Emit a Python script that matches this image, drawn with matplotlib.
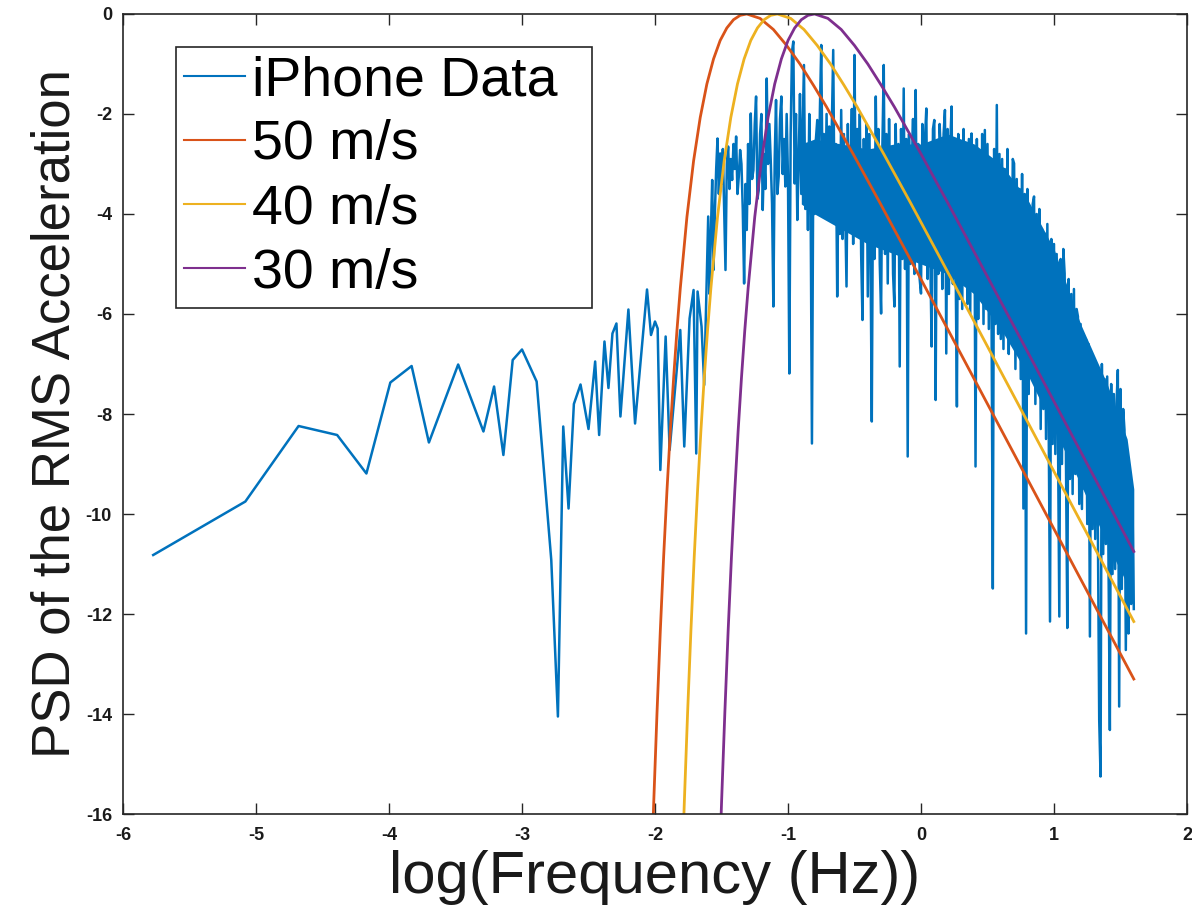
#! /usr/bin/python3

# PSD of iPhone acceleration data vs. model wave spectra for three wind speeds

import numpy as np
import matplotlib.pyplot as plt

plt.rcParams['font.family'] = ['Liberation Sans', 'DejaVu Sans']
plt.rcParams['axes.unicode_minus'] = False

## iPhone data, low-frequency part
low_x = [-5.773, -5.08, -4.68, -4.39, -4.17, -3.99, -3.83, -3.70, -3.48, -3.29,
         -3.21, -3.14, -3.07, -3.00, -2.89, -2.78, -2.73, -2.69, -2.65, -2.61,
         -2.56, -2.50, -2.45, -2.42, -2.38, -2.35, -2.32, -2.29, -2.26, -2.20,
         -2.15, -2.06, -2.03, -2.00, -1.98, -1.96, -1.92, -1.89, -1.81, -1.78,
         -1.74, -1.71, -1.69, -1.68, -1.65, -1.63]
low_y = [-10.82, -9.75, -8.24, -8.42, -9.19, -7.37, -7.04, -8.57, -7.01, -8.35,
         -7.45, -8.82, -6.92, -6.71, -7.35, -10.92, -14.05, -8.25, -9.89, -7.80,
         -7.41, -8.30, -6.95, -8.42, -6.55, -7.48, -6.39, -6.19, -8.05, -5.91,
         -8.19, -5.51, -6.42, -6.15, -6.29, -9.12, -6.45, -8.72, -6.32, -8.65,
         -6.09, -5.52, -8.79, -5.55, -6.25, -7.42]

## iPhone data, dense part: one value every 0.01 from -1.60 to 1.60
dense_start, dense_step = -1.60, 0.01
dense_y = [
    -4.05, -5.6, -4.4, -3.32, -5.12, -4.0, -3.1, -2.49, -3.6, -2.79,       # -1.60
    -3.4, -2.7, -3.9, -5.12, -3.0, -2.65, -3.5, -2.9, -3.32, -2.6,         # -1.50
    -3.1, -2.45, -3.6, -3.25, -2.72, -3.0, -3.92, -5.39, -3.4, -4.32,      # -1.40
    -2.6, -3.8, -1.99, -3.3, -3.12, -2.2, -1.65, -3.7, -3.52, -2.4,        # -1.30
    -2.0, -3.92, -2.8, -3.5, -1.29, -3.0, -2.2, -2.92, -3.8, -5.85,        # -1.20
    -2.9, -1.72, -3.6, -3.25, -2.1, -1.65, -3.2, -2.5, -3.45, -2.0,        # -1.10
    -3.3, -7.19, -2.4, -0.75, -0.55, -3.39, -2.0, -4.12, -3.0, -1.6,       # -1.00
    -3.6, -2.3, -1.02, -3.9, -2.6, -4.32, -2.0, -3.7, -8.59, -3.1,         # -0.90
    -4.0, -2.5, -2.12, -3.8, -1.9, -0.62, -3.5, -2.4, -3.92, -2.0,         # -0.80
    -4.1, -2.25, -3.6, -2.1, -0.72, -4.0, -2.6, -5.65, -3.0, -4.4,         # -0.70
    -1.92, -4.5, -2.4, -3.9, -5.45, -2.2, -4.2, -3.19, -1.9, -4.6,         # -0.60
    -0.82, -4.0, -2.3, -4.19, -2.0, -4.8, -6.12, -2.5, -4.4, -2.2,         # -0.50
    -5.65, -2.4, -4.6, -8.15, -2.8, -4.9, -1.65, -3.9, -2.3, -5.0,         # -0.40
    -5.99, -2.6, -1.02, -4.8, -2.4, -5.39, -2.1, -4.6, -2.9, -5.2,         # -0.30
    -5.85, -2.2, -4.5, -2.6, -7.05, -2.3, -4.9, -1.49, -5.1, -2.5,         # -0.20
    -8.85, -2.4, -5.0, -3.19, -2.1, -5.2, -1.52, -4.7, -2.6, -5.3,         # -0.10
    -5.59, -2.2, -4.8, -2.5, -1.89, -5.3, -2.7, -4.9, -6.65, -2.3,         # 0.00
    -2.12, -7.72, -2.9, -5.2, -2.2, -2.85, -5.5, -2.4, -1.92, -6.79,       # 0.10
    -2.3, -5.6, -2.6, -1.85, -5.4, -2.5, -4.9, -7.85, -2.4, -5.7,          # 0.20
    -2.6, -5.9, -2.3, -5.2, -2.9, -5.8, -2.5, -6.0, -2.39, -5.5,           # 0.30
    -2.7, -9.05, -2.5, -6.1, -3.0, -5.7, -2.4, -6.2, -2.32, -5.9,          # 0.40
    -2.6, -6.3, -2.9, -5.8, -11.49, -2.7, -6.2, -1.82, -6.4, -2.8,         # 0.50
    -6.5, -2.9, -6.7, -3.1, -6.0, -2.7, -6.8, -3.3, -6.4, -2.9,            # 0.60
    -2.99, -7.1, -3.3, -6.8, -3.5, -7.3, -3.2, -9.89, -3.6, -12.39,        # 0.70
    -3.5, -7.6, -3.9, -7.2, -3.8, -3.65, -7.8, -4.0, -7.4, -3.9,           # 0.80
    -8.3, -4.3, -7.9, -4.39, -8.5, -4.2, -8.1, -12.15, -4.5, -8.6,         # 0.90
    -4.6, -8.8, -4.8, -8.4, -12.05, -4.9, -9.0, -4.7, -5.19, -8.9,         # 1.00
    -12.28, -5.3, -9.3, -5.6, -9.6, -5.5, -9.2, -5.9, -6.05, -9.8,         # 1.10
    -6.2, -9.9, -6.4, -9.5, -6.5, -10.2, -6.6, -12.45, -6.8, -10.3,        # 1.20
    -6.99, -10.5, -7.1, -10.3, -14.12, -15.25, -7.0, -10.8, -7.3, -10.6,   # 1.30
    -7.25, -11.0, -14.32, -7.4, -11.2, -7.6, -11.1, -7.8, -7.12, -13.85,   # 1.40
    -7.5, -11.5, -7.9, -8.32, -12.72, -8.8, -12.39, -9.52, -11.8, -9.8,    # 1.50
    -11.9,                                                                 # 1.60
]

## solid core of the noisy band (where the trace fills in completely)
core_x = [-0.90, -0.80, -0.60, -0.40, -0.20, 0.00, 0.20, 0.40, 0.60, 0.80,
          1.00, 1.20, 1.40, 1.55, 1.60]
core_hi = [-2.6, -2.5, -2.6, -2.7, -2.6, -2.6, -2.4, -2.6, -3.0, -3.7,
           -4.7, -6.2, -7.4, -8.5, -9.5]
core_lo = [-3.8, -4.0, -4.3, -4.6, -4.8, -5.0, -5.2, -5.6, -6.3, -7.2,
           -8.3, -9.4, -10.6, -11.4, -11.8]

## model spectra (50, 40, 30 m/s)
red_x = [-2.03, -2.01, -1.985, -1.96, -1.935, -1.91, -1.885, -1.86, -1.835, -1.81,
         -1.76, -1.71, -1.66, -1.61, -1.56, -1.51, -1.46, -1.41, -1.36, -1.31,
         -1.21, -1.11, -1.01, -0.91, -0.81, -0.71, -0.51, -0.31, -0.11, 0.19,
         0.69, 1.19, 1.60]
red_y = [-17.41, -15.80, -13.98, -12.33, -10.85, -9.53, -8.34, -7.28, -6.33, -5.49,
         -4.06, -2.94, -2.07, -1.40, -0.90, -0.53, -0.28, -0.115, -0.027, 0.0,
         -0.088, -0.31, -0.63, -1.00, -1.42, -1.86, -2.80, -3.77, -4.76, -6.25,
         -8.75, -11.25, -13.30]

yel_x = [-1.80, -1.78, -1.755, -1.73, -1.705, -1.68, -1.655, -1.63, -1.605, -1.58,
         -1.53, -1.48, -1.43, -1.38, -1.33, -1.28, -1.23, -1.18, -1.13, -1.08,
         -0.98, -0.88, -0.78, -0.68, -0.58, -0.48, -0.28, -0.08, 0.12, 0.42,
         0.92, 1.42, 1.60]
yel_y = [-17.41, -15.80, -13.98, -12.33, -10.85, -9.53, -8.34, -7.28, -6.33, -5.49,
         -4.06, -2.94, -2.07, -1.40, -0.90, -0.53, -0.28, -0.115, -0.027, 0.0,
         -0.088, -0.31, -0.63, -1.00, -1.42, -1.86, -2.80, -3.77, -4.76, -6.25,
         -8.75, -11.25, -12.15]

pur_x = [-1.52, -1.50, -1.475, -1.45, -1.425, -1.40, -1.375, -1.35, -1.325, -1.30,
         -1.25, -1.20, -1.15, -1.10, -1.05, -1.00, -0.95, -0.90, -0.85, -0.80,
         -0.70, -0.60, -0.50, -0.40, -0.30, -0.20, 0.00, 0.20, 0.40, 0.70,
         1.20, 1.60]
pur_y = [-17.41, -15.80, -13.98, -12.33, -10.85, -9.53, -8.34, -7.28, -6.33, -5.49,
         -4.06, -2.94, -2.07, -1.40, -0.90, -0.53, -0.28, -0.115, -0.027, 0.0,
         -0.088, -0.31, -0.63, -1.00, -1.42, -1.86, -2.80, -3.77, -4.76, -6.25,
         -8.75, -10.75]

labels = ["iPhone Data", "50 m/s", "40 m/s", "30 m/s"]
colors = ["#0072BD", "#D95319", "#EDB120", "#7E2F8E"]

# assemble the blue series
dense_x = np.round(np.arange(len(dense_y)) * dense_step + dense_start, 2)
data_x = np.concatenate([low_x, dense_x])
data_y = np.concatenate([low_y, dense_y])

fig = plt.figure(figsize=(11.92, 9.08), dpi=100, facecolor="w")
ax = fig.add_axes([0.1032, 0.1035, 0.8926, 0.8811])

ax.fill_between(core_x, core_lo, core_hi, color=colors[0], lw=0)
ax.plot(data_x, data_y, color=colors[0], lw=1.8, label=labels[0])
ax.plot(red_x, red_y, color=colors[1], lw=2.0, label=labels[1])
ax.plot(yel_x, yel_y, color=colors[2], lw=2.0, label=labels[2])
ax.plot(pur_x, pur_y, color=colors[3], lw=2.0, label=labels[3])

ax.set_xlim(-6, 2)
ax.set_ylim(-16, 0)
ax.set_xticks(np.arange(-6, 3, 1))
ax.set_yticks(np.arange(-16, 1, 2))

# MATLAB-like box with inward ticks on all sides
for s in ax.spines.values():
    s.set_color("#262626")
    s.set_linewidth(1.2)
ax.tick_params(direction="in", length=8, width=1.0, color="#262626",
               top=True, right=True, labelsize=13, labelcolor="#1a1a1a")
ax.tick_params(axis="x", pad=9)
ax.tick_params(axis="y", pad=8)
for t in ax.get_xticklabels() + ax.get_yticklabels():
    t.set_fontweight("bold")

ax.set_xlabel("log(Frequency (Hz))", fontsize=43, color="#1a1a1a", labelpad=5)
ax.set_ylabel("PSD of the RMS Acceleration", fontsize=38, color="#1a1a1a", labelpad=4)

leg = ax.legend(loc="upper left", bbox_to_anchor=(0.0498, 0.959, 0.391, 0.0),
                mode="expand", fontsize=40, handlelength=1.1, handletextpad=0.12,
                borderpad=0.15, labelspacing=0.22, borderaxespad=0.0,
                fancybox=False, framealpha=1.0)
leg.get_frame().set_edgecolor("#262626")
leg.get_frame().set_linewidth(1.2)
for h in leg.get_lines():
    h.set_linewidth(1.5)

plt.savefig("out.png", dpi=100)
